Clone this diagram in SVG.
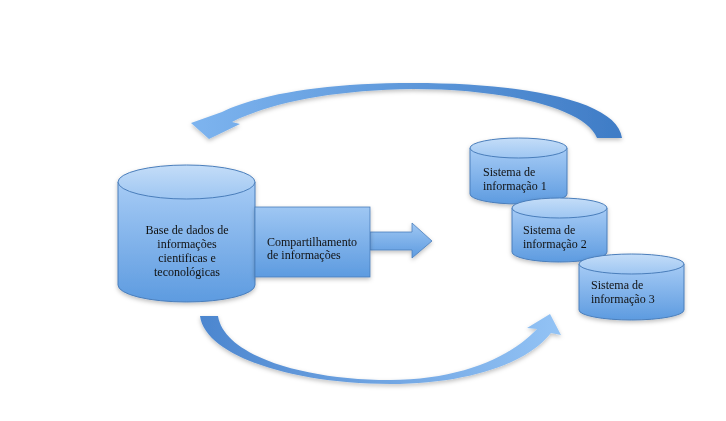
<svg xmlns="http://www.w3.org/2000/svg" width="726" height="421" viewBox="0 0 726 421">
<style>
text{font-family:"Liberation Serif","Times New Roman",serif;font-size:12px;fill:#111}
.body{fill:url(#gBody);stroke:#4a7ebb;stroke-width:1}
.top{fill:url(#gTop);stroke:#4a7ebb;stroke-width:1}
</style>
<defs>
<linearGradient id="gBody" x1="0" y1="0" x2="0" y2="1">
<stop offset="0" stop-color="#a6cbf5"/><stop offset="1" stop-color="#5d9be0"/>
</linearGradient>
<linearGradient id="gTop" x1="0" y1="0" x2="0" y2="1">
<stop offset="0" stop-color="#c4ddf8"/><stop offset="1" stop-color="#9ec6f2"/>
</linearGradient>
<linearGradient id="gRect" x1="0" y1="0" x2="0" y2="1">
<stop offset="0" stop-color="#9fc7f3"/><stop offset="1" stop-color="#5d9be0"/>
</linearGradient>
<linearGradient id="gArcTop" x1="1" y1="0" x2="0" y2="0">
<stop offset="0" stop-color="#3f7cc6"/><stop offset="1" stop-color="#7db4ef"/>
</linearGradient>
<linearGradient id="gArcBot" x1="0" y1="0" x2="1" y2="0">
<stop offset="0" stop-color="#4c86cf"/><stop offset="1" stop-color="#93c3f5"/>
</linearGradient>
<filter id="sh" x="-10%" y="-10%" width="130%" height="130%">
<feDropShadow dx="0" dy="2" stdDeviation="2" flood-color="#000" flood-opacity="0.25"/>
</filter>
</defs>
<rect width="726" height="421" fill="#ffffff"/>

<g id="connectors" filter="url(#sh)">
<path id="arc-top" fill="url(#gArcTop)" d="M622,138 C618,102 530,83 413,83 C322,83 257,95 222,112 L191,123 L209,139 L240,124 L232,122 C270,103 332,90 413,89 C505,89 585,108 597,138 Z"/>
<path id="arc-bottom" fill="url(#gArcBot)" d="M200,316 C205,355 290,384 390,384 C468,384 528,363 551,333 L561,335 L550,314 L527,328 L537,329 C512,356 462,380 390,380 C302,380 224,355 218,316 Z"/>
<path id="share-arrow" fill="url(#gRect)" stroke="#4a7ebb" stroke-width="0.8" d="M370,232 L412,232 L412,223 L432,241 L412,258 L412,250 L370,250 Z"/>
</g>

<g id="base" filter="url(#sh)">
<path class="body" d="M118,182 L118,285 A68.5,17 0 0 0 255,285 L255,182 Z"/>
<ellipse class="top" cx="186.5" cy="182" rx="68.5" ry="17"/>
<text text-anchor="middle" x="187" y="234">Base de dados de</text>
<text text-anchor="middle" x="187" y="248">informações</text>
<text text-anchor="middle" x="187" y="262">cientificas e</text>
<text text-anchor="middle" x="187" y="276">teconológicas</text>
</g>

<g id="share" filter="url(#sh)">
<rect x="255" y="207" width="115" height="70" fill="url(#gRect)" stroke="#4a7ebb" stroke-width="0.8"/>
<text x="267" y="246">Compartilhamento</text>
<text x="267" y="259">de informações</text>
</g>

<g id="sistema1" filter="url(#sh)">
<path class="body" d="M470,148 L470,194 A48.5,10 0 0 0 567,194 L567,148 Z"/>
<ellipse class="top" cx="518.5" cy="148" rx="48.5" ry="10"/>
<text x="483" y="176">Sistema de</text>
<text x="483" y="190">informação 1</text>
</g>

<g id="sistema2" filter="url(#sh)">
<path class="body" d="M512,208 L512,252 A47.5,10 0 0 0 607,252 L607,208 Z"/>
<ellipse class="top" cx="559.5" cy="208" rx="47.5" ry="10"/>
<text x="523" y="234">Sistema de</text>
<text x="523" y="248">informação 2</text>
</g>

<g id="sistema3" filter="url(#sh)">
<path class="body" d="M579,264 L579,310 A52.5,10 0 0 0 684,310 L684,264 Z"/>
<ellipse class="top" cx="631.5" cy="264" rx="52.5" ry="10"/>
<text x="591" y="289">Sistema de</text>
<text x="591" y="303">informação 3</text>
</g>
</svg>
